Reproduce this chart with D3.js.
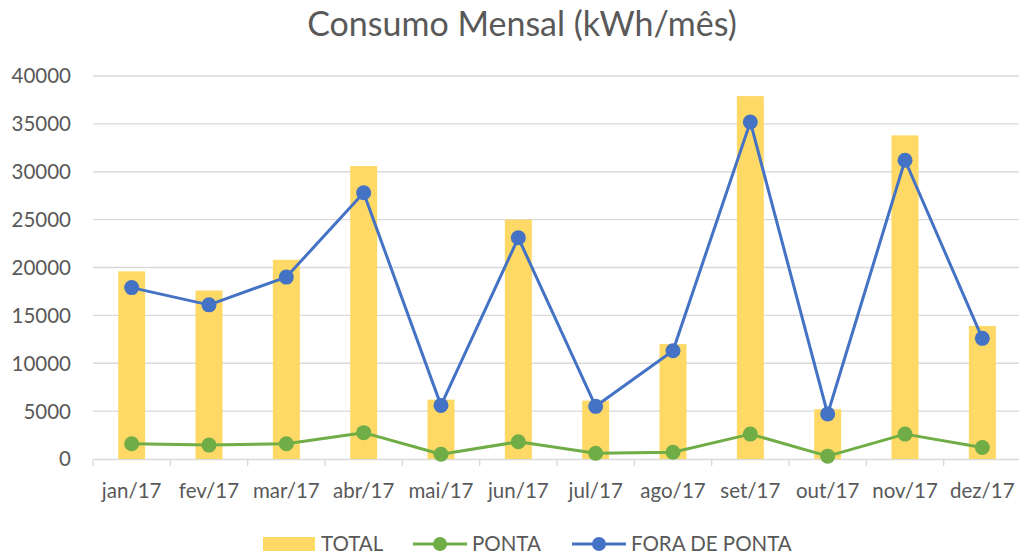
<!DOCTYPE html>
<html>
<head>
<meta charset="utf-8">
<script src="https://cdn.jsdelivr.net/npm/d3@7"></script>
<style>
  body { margin: 0; background: #fff; }
  text { font-family: Lato, "Open Sans", sans-serif; fill: #595959; }
</style>
</head>
<body>
<div id="wrapper"></div>
<script>
const width = 1019
const height = 555

// dados
const meses = ["jan/17", "fev/17", "mar/17", "abr/17", "mai/17", "jun/17", "jul/17", "ago/17", "set/17", "out/17", "nov/17", "dez/17"]
const total = [19600, 17600, 20800, 30600, 6200, 25000, 6100, 12000, 37900, 5200, 33800, 13900]
const ponta = [1600, 1450, 1600, 2750, 500, 1800, 600, 700, 2600, 300, 2600, 1200]
const foraPonta = [17900, 16100, 19000, 27800, 5600, 23100, 5500, 11300, 35200, 4700, 31200, 12600]
const yTicks = [0, 5000, 10000, 15000, 20000, 25000, 30000, 35000, 40000]

const data = meses.map((m, i) => ({ mes: m, total: total[i], ponta: ponta[i], fora: foraPonta[i] }))

const svg = d3.select("#wrapper").append("svg")
    .attr("width", width)
    .attr("height", height)

const x = d3.scaleBand()
    .domain(meses)
    .range([93, 1021])

const y = d3.scaleLinear()
    .domain([0, 40000])
    .range([459, 76])

// linhas de grade
svg.append("g")
    .selectAll("line")
    .data(yTicks.slice(1))
    .join("line")
    .attr("x1", 93)
    .attr("x2", 1021)
    .attr("y1", d => y(d))
    .attr("y2", d => y(d))
    .attr("stroke", "#d9d9d9")
    .attr("stroke-width", 1.3)

// eixo y (rótulos)
svg.append("g")
    .selectAll("text")
    .data(yTicks)
    .join("text")
    .attr("x", 71)
    .attr("y", d => y(d))
    .attr("dy", "0.36em")
    .attr("text-anchor", "end")
    .style("font-size", "20.5px")
    .text(d => d)

// eixo x
const xAxis = svg.append("g")
    .attr("transform", `translate(0,${y(0)})`)
    .call(d3.axisBottom(x).tickSize(0).tickFormat(""))
xAxis.select(".domain").attr("stroke", "#d9d9d9").attr("stroke-width", 1.3)
xAxis.append("g")
    .selectAll("line")
    .data(d3.range(meses.length + 1))
    .join("line")
    .attr("x1", i => x.range()[0] + i * x.step())
    .attr("x2", i => x.range()[0] + i * x.step())
    .attr("y1", 0)
    .attr("y2", 7)
    .attr("stroke", "#d9d9d9")
    .attr("stroke-width", 1.3)

svg.append("g")
    .selectAll("text")
    .data(meses)
    .join("text")
    .attr("x", d => x(d) + x.bandwidth() / 2)
    .attr("y", 498)
    .attr("text-anchor", "middle")
    .style("font-size", "20.5px")
    .text(d => d)

// barras TOTAL
const barW = 27
svg.append("g")
    .selectAll("rect")
    .data(data)
    .join("rect")
    .attr("x", d => x(d.mes) + x.bandwidth() / 2 - barW / 2)
    .attr("width", barW)
    .attr("y", d => y(d.total))
    .attr("height", d => y(0) - y(d.total))
    .attr("fill", "#ffd966")

function serie(key, color) {
    const line = d3.line()
        .x(d => x(d.mes) + x.bandwidth() / 2)
        .y(d => y(d[key]))
    svg.append("path")
        .datum(data)
        .attr("d", line)
        .attr("fill", "none")
        .attr("stroke", color)
        .attr("stroke-width", 3)
        .attr("stroke-linejoin", "round")
    svg.append("g")
        .selectAll("circle")
        .data(data)
        .join("circle")
        .attr("cx", d => x(d.mes) + x.bandwidth() / 2)
        .attr("cy", d => y(d[key]))
        .attr("r", 7.5)
        .attr("fill", color)
}
serie("ponta", "#70ad47")
serie("fora", "#4472c4")

// título
svg.append("text")
    .attr("x", 522)
    .attr("y", 36)
    .attr("text-anchor", "middle")
    .style("font-size", "34px")
    .text("Consumo Mensal (kWh/mês)")

// legenda
const leg = svg.append("g")
leg.append("rect")
    .attr("x", 263).attr("y", 537).attr("width", 52).attr("height", 14)
    .attr("fill", "#ffd966")
leg.append("text").attr("x", 321).attr("y", 544).attr("dy", "0.36em")
    .style("font-size", "20.5px").text("TOTAL")

const legLines = [
    { x0: 413, color: "#70ad47", label: "PONTA" },
    { x0: 572, color: "#4472c4", label: "FORA DE PONTA" }
]
legLines.forEach(l => {
    leg.append("line")
        .attr("x1", l.x0).attr("x2", l.x0 + 54)
        .attr("y1", 544).attr("y2", 544)
        .attr("stroke", l.color).attr("stroke-width", 3)
    leg.append("circle")
        .attr("cx", l.x0 + 27).attr("cy", 544).attr("r", 7)
        .attr("fill", l.color)
    leg.append("text").attr("x", l.x0 + 59).attr("y", 544).attr("dy", "0.36em")
        .style("font-size", "20.5px").text(l.label)
})
</script>
</body>
</html>
